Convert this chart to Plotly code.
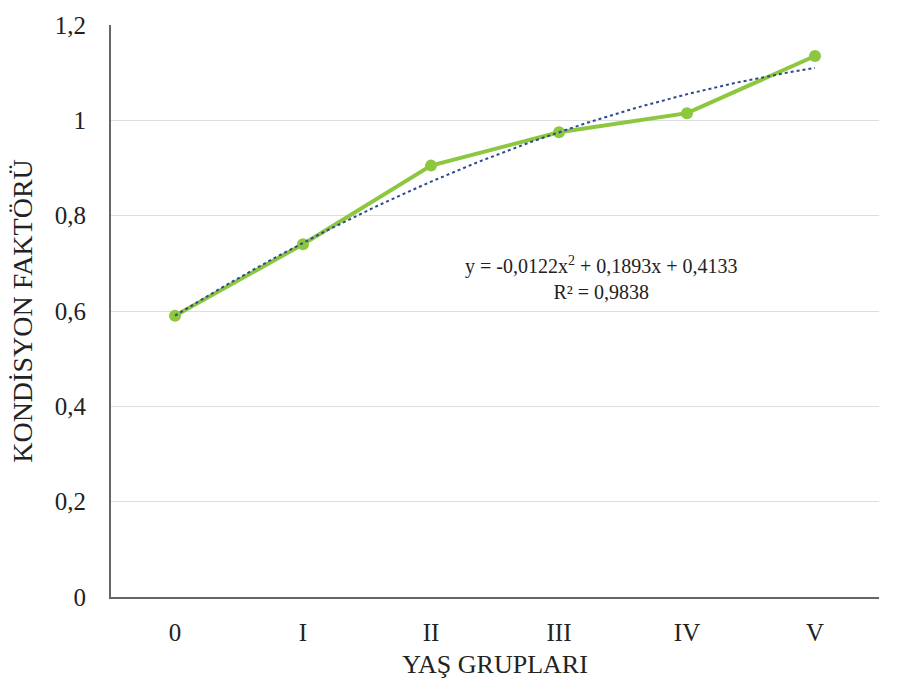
import numpy as np
import plotly.graph_objects as go

categories = ["0", "I", "II", "III", "IV", "V"]
kondisyon = [0.59, 0.74, 0.905, 0.975, 1.015, 1.135]
trend_coef = [-0.0122, 0.1893, 0.4133]  # y = a x^2 + b x + c, x = 1..6
eq_text = "y = -0,0122x<sup>2</sup> + 0,1893x + 0,4133<br>R² = 0,9838"

xpos = list(range(len(categories)))
xs = np.linspace(1, len(categories), 200)
ys = np.polyval(trend_coef, xs)

SERIF = "Times New Roman, Liberation Serif, DejaVu Serif, serif"

fig = go.Figure()
fig.add_trace(go.Scatter(
    x=xpos, y=kondisyon, mode="lines+markers",
    line=dict(color="#8dc63f", width=4),
    marker=dict(color="#8dc63f", size=12),
    showlegend=False, hoverinfo="skip"))
fig.add_trace(go.Scatter(
    x=xs - 1, y=ys, mode="lines",
    line=dict(color="#2e4a8c", width=2, dash="dot"),
    showlegend=False, hoverinfo="skip"))

fig.add_annotation(
    x=3.33, y=0.67, xref="x", yref="y", text=eq_text, showarrow=False,
    font=dict(family=SERIF, size=20, color="#222222"),
    align="center")

fig.update_layout(
    width=897, height=689,
    margin=dict(l=111, r=18, t=22, b=92),
    paper_bgcolor="white", plot_bgcolor="white",
    separators=",.",
    font=dict(family=SERIF, color="#222222", size=25),
    xaxis=dict(
        range=[-0.5, 5.5], tickvals=xpos, ticktext=categories,
        showgrid=False, zeroline=False,
        showline=True, linecolor="#666666", linewidth=2,
        ticks="", ticklen=0, ticklabelstandoff=12,
        tickfont=dict(family=SERIF, size=25),
        title=dict(text="YAŞ GRUPLARI", font=dict(family=SERIF, size=26), standoff=10)),
    yaxis=dict(
        range=[0, 1.2], dtick=0.2, tick0=0,
        showgrid=True, gridcolor="#dedede", gridwidth=1,
        zeroline=False,
        showline=True, linecolor="#666666", linewidth=2,
        ticks="", ticklabelstandoff=18, tickfont=dict(family=SERIF, size=25),
        title=dict(text="KONDİSYON FAKTÖRÜ", font=dict(family=SERIF, size=28), standoff=14)),
)

fig.write_html("out.html")
